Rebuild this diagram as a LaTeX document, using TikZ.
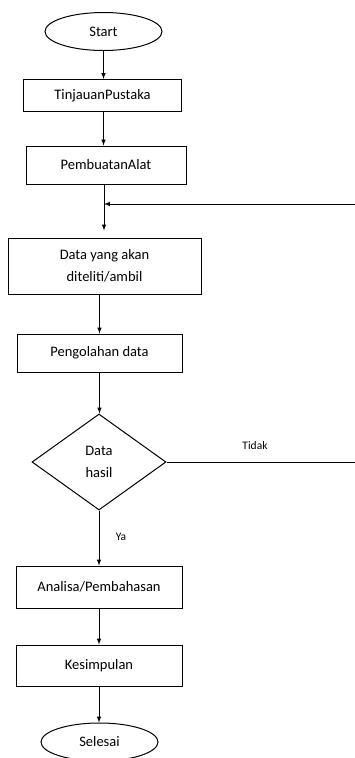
\documentclass[tikz,border=0pt]{standalone}
\usepackage{fontspec}
\setmainfont{Carlito}
\usetikzlibrary{arrows,shapes}

\begin{document}
\begin{tikzpicture}[font=\fontsize{14.5}{22}\selectfont,x=1pt,y=-1pt,line width=1pt,>=latex]
    \tikzstyle{term}=[draw,ellipse,minimum width=117pt,minimum height=38pt,inner sep=0pt]
    \tikzstyle{proc}=[draw,rectangle,inner sep=0pt,align=center]
    \tikzstyle{keputusan}=[draw,diamond,minimum width=134pt,minimum height=96pt,inner sep=0pt,align=center]
    \tikzstyle{lbl}=[font=\fontsize{11.5}{14}\selectfont]

    \useasboundingbox (0,0) rectangle (355,758);

    \node[term] (start) at (103.5,31.5) {Start};
    \node[proc,minimum width=158pt,minimum height=32pt] (tinjauan) at (102.5,95.5) {TinjauanPustaka};
    \node[proc,minimum width=160pt,minimum height=38pt] (pembuatan) at (106,165) {PembuatanAlat};
    \node[proc,minimum width=193pt,minimum height=56pt] (data) at (104.5,266) {Data yang akan\\diteliti/ambil};
    \node[proc,minimum width=165pt,minimum height=38pt] (pengolahan) at (99.5,353) {Pengolahan data};
    \node[keputusan] (hasil) at (99,462) {Data\\hasil};
    \node[proc,minimum width=166pt,minimum height=42pt] (analisa) at (99,587) {Analisa/Pembahasan};
    \node[proc,minimum width=166pt,minimum height=41pt] (kesimpulan) at (99,665.5) {Kesimpulan};
    \node[term] (selesai) at (99.5,742) {Selesai};

    \coordinate (gabung) at (104,204);
    \coordinate (kanan) at (357,204);

    \draw[->] (start.south) -- (start.south |- tinjauan.north);
    \draw[->] (tinjauan.south -| start.south) -- (start.south |- pembuatan.north);
    \draw[->,shorten >=7pt] (pembuatan.south -| gabung) -- (gabung |- data.north);
    \draw[->] (pengolahan.north |- data.south) -- (pengolahan.north);
    \draw[->] (pengolahan.south) -- (pengolahan.south |- hasil.north);
    \draw[->] (hasil.south) -- (hasil.south |- analisa.north);
    \draw[->] (analisa.south) -- (analisa.south |- kesimpulan.north);
    \draw[->] (kesimpulan.south) -- (kesimpulan.south |- selesai.north);
    \draw[->] (hasil.east) -- (hasil.east -| kanan) |- (gabung);

    \node[lbl] (tidak) at (255,446) {Tidak};
    \node[lbl] (ya) at (121,537) {Ya};
\end{tikzpicture}
\end{document}
